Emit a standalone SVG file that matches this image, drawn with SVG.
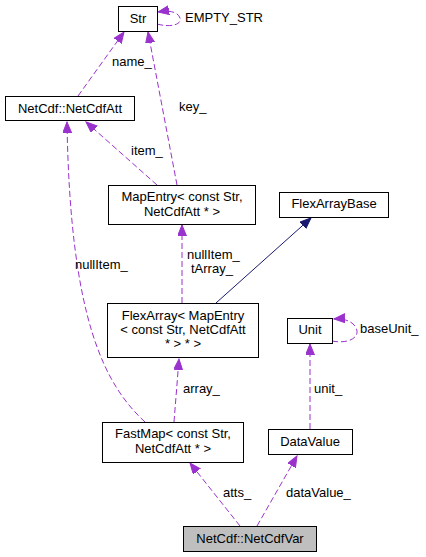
<svg xmlns="http://www.w3.org/2000/svg" width="426" height="557" viewBox="0 0 426 557">
<style>
  .node rect { fill: #ffffff; stroke: #000000; stroke-width: 1; }
  .node.focus rect { fill: #bfbfbf; stroke: #000000; }
  text { font-family: "Liberation Sans", Arial, Helvetica, sans-serif; font-size: 13px; fill: #000000; }
  .node text { text-anchor: middle; }
  .e { fill: none; stroke: #9a32cd; stroke-width: 1; stroke-dasharray: 6,3; }
  .inh { fill: none; stroke: #191970; stroke-width: 1; }
</style>
<defs>
  <marker id="ap" markerUnits="userSpaceOnUse" markerWidth="13" markerHeight="11" refX="11" refY="4.5" orient="auto">
    <path d="M0,0 L11,4.5 L0,9 Z" fill="#9a32cd" stroke="#9a32cd"/>
  </marker>
  <marker id="an" markerUnits="userSpaceOnUse" markerWidth="13" markerHeight="11" refX="11" refY="4.5" orient="auto">
    <path d="M0,0 L11,4.5 L0,9 Z" fill="#191970" stroke="#191970"/>
  </marker>
</defs>
<g id="connectors">
  <path class="e" d="M157,24 C172,28 182,24 180,18 C178,12 170,10 158,12" marker-end="url(#ap)"/>
  <path class="e" d="M78,96 L124,32" marker-end="url(#ap)"/>
  <path class="e" d="M177,185 L148,32" marker-end="url(#ap)"/>
  <path class="e" d="M157,185 L86,122" marker-end="url(#ap)"/>
  <path class="e" d="M145,422 C105,385 70,320 67,122" marker-end="url(#ap)"/>
  <path class="e" d="M182,303 L182,225" marker-end="url(#ap)"/>
  <path class="inh" d="M216,303 L311,218" marker-end="url(#an)"/>
  <path class="e" d="M174,422 L179,359" marker-end="url(#ap)"/>
  <path class="e" d="M332,341 C348,344 358,338 357,331 C356,324 348,318 334,319" marker-end="url(#ap)"/>
  <path class="e" d="M310,429 L310,344" marker-end="url(#ap)"/>
  <path class="e" d="M240,526 L190,463" marker-end="url(#ap)"/>
  <path class="e" d="M257,526 L297,456" marker-end="url(#ap)"/>
  <text x="185" y="22">EMPTY_STR</text>
  <text x="112" y="66">name_</text>
  <text x="179" y="111">key_</text>
  <text x="131" y="155">item_</text>
  <text x="75" y="269">nullItem_</text>
  <text x="187" y="259">nullItem_</text>
  <text x="191" y="273">tArray_</text>
  <text x="183" y="393">array_</text>
  <text x="360" y="333">baseUnit_</text>
  <text x="314" y="393">unit_</text>
  <text x="223" y="497">atts_</text>
  <text x="286" y="497">dataValue_</text>
</g>
<g id="node-str" class="node">
  <rect x="118.5" y="6.5" width="39" height="25"/>
  <text x="138" y="23">Str</text>
</g>
<g id="node-netcdfatt" class="node">
  <rect x="5.5" y="96.5" width="129" height="24"/>
  <text x="70" y="113">NetCdf::NetCdfAtt</text>
</g>
<g id="node-mapentry" class="node">
  <rect x="108.5" y="185.5" width="147" height="39"/>
  <text x="182" y="201">MapEntry&lt; const Str,</text>
  <text x="182" y="216">NetCdfAtt * &gt;</text>
</g>
<g id="node-flexarraybase" class="node">
  <rect x="279.5" y="192.5" width="109" height="25"/>
  <text x="334" y="208">FlexArrayBase</text>
</g>
<g id="node-flexarray" class="node">
  <rect x="107.5" y="303.5" width="151" height="54"/>
  <text x="183" y="320">FlexArray&lt; MapEntry</text>
  <text x="183" y="334">&lt; const Str, NetCdfAtt</text>
  <text x="183" y="348">* &gt; * &gt;</text>
</g>
<g id="node-unit" class="node">
  <rect x="287.5" y="318.5" width="45" height="25"/>
  <text x="310" y="334">Unit</text>
</g>
<g id="node-fastmap" class="node">
  <rect x="102.5" y="422.5" width="141" height="40"/>
  <text x="173" y="438">FastMap&lt; const Str,</text>
  <text x="173" y="453">NetCdfAtt * &gt;</text>
</g>
<g id="node-datavalue" class="node">
  <rect x="268.5" y="429.5" width="84" height="25"/>
  <text x="310" y="446">DataValue</text>
</g>
<g id="node-netcdfvar" class="node focus">
  <rect x="183.5" y="526.5" width="133" height="25"/>
  <text x="250" y="543">NetCdf::NetCdfVar</text>
</g>
</svg>
